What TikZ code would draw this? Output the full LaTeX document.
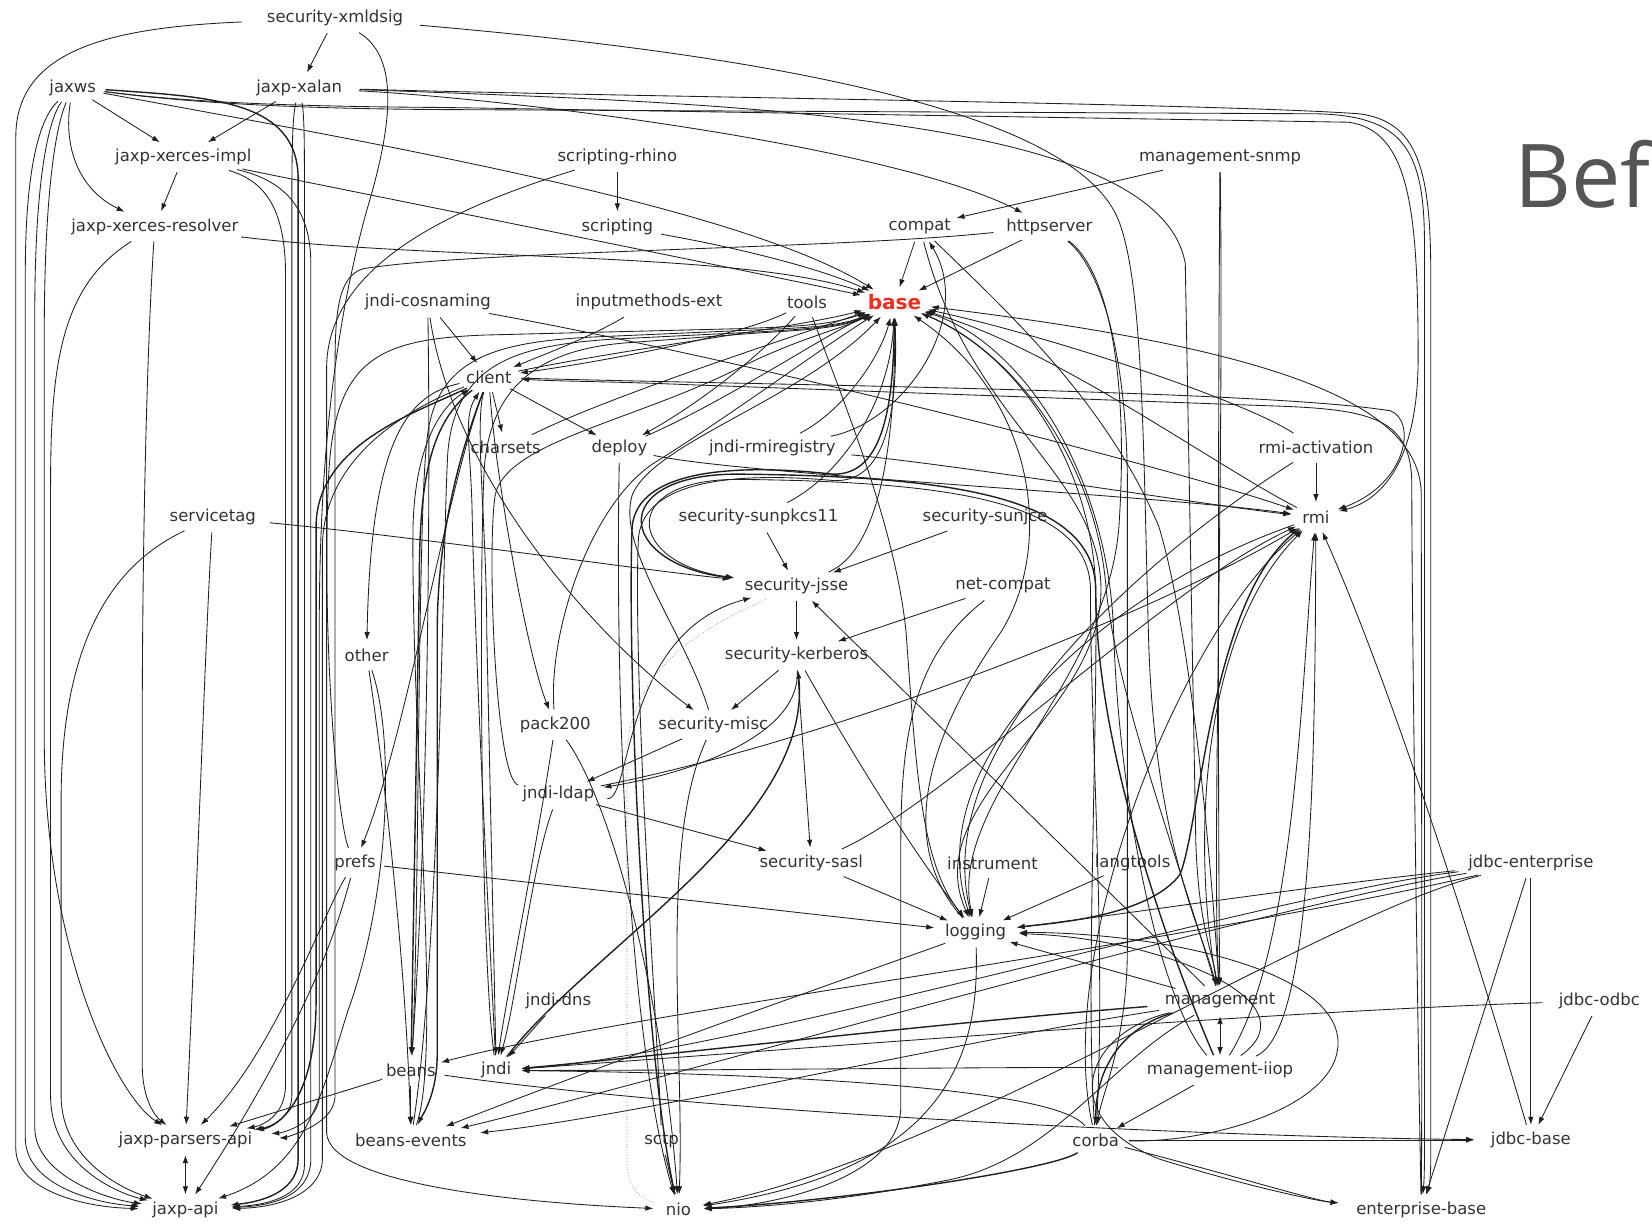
\documentclass[tikz,border=0pt]{standalone}
\usepackage{fontspec}
\setmainfont{DejaVu Sans}
\newfontfamily\beffont{Open Sans}
\usetikzlibrary{arrows.meta,shapes.geometric}
\definecolor{basered}{RGB}{240,45,35}
\definecolor{befgray}{RGB}{85,85,85}
\tikzset{
  lb/.style={shape=ellipse, inner sep=0pt, minimum height=30pt, minimum width=50pt, font=\fontsize{16.5}{18}\selectfont, text=black!80},
  e/.style={draw=black!88, line width=0.85pt, -{Latex[length=8pt,width=5.5pt]}},
  eb/.style={e, line width=1.4pt},
  ee/.style={draw=black!88, line width=0.85pt, {Latex[length=8pt,width=5.5pt]}-{Latex[length=8pt,width=5.5pt]}},
  ed/.style={draw=black!35, line width=0.8pt, dotted},
}
\begin{document}
\begin{tikzpicture}[x=1.05357pt,y=-1.05357pt]
\useasboundingbox (0,0) rectangle (1568,1162);
\fill[white] (0,0) rectangle (1568,1162);
% nodes
\node[lb] (sxml) at (318,17) {security-xmldsig};
\node[lb] (jaxws) at (69,83) {jaxws};
\node[lb] (xalan) at (284,83) {jaxp-xalan};
\node[lb] (ximpl) at (174,149) {jaxp-xerces-impl};
\node[lb] (rhino) at (586,149) {scripting-rhino};
\node[lb] (snmp) at (1158,149) {management-snmp};
\node[lb] (xres) at (147,215) {jaxp-xerces-resolver};
\node[lb] (scripting) at (586,215) {scripting};
\node[lb] (compat) at (873,215) {compat};
\node[lb] (httpserver) at (996,215) {httpserver};
\node[lb] (cosnaming) at (406,287) {jndi-cosnaming};
\node[lb] (inputm) at (616,287) {inputmethods-ext};
\node[lb] (tools) at (766,287) {tools};
\node[lb, font=\bfseries\fontsize{20}{22}\selectfont, text=basered] (base) at (849,287) {base};
\node[lb] (client) at (464,358) {client};
\node[lb] (charsets) at (480,425) {charsets};
\node[lb] (deploy) at (588,425) {deploy};
\node[lb] (rmireg) at (733,425) {jndi-rmiregistry};
\node[lb] (rmiact) at (1249,425) {rmi-activation};
\node[lb] (servicetag) at (202,491) {servicetag};
\node[lb] (sunpkcs) at (720,491) {security-sunpkcs11};
\node[lb] (sunjce) at (935,491) {security-sunjce};
\node[lb] (rmi) at (1249,491) {rmi};
\node[lb] (jsse) at (756,556) {security-jsse};
\node[lb] (netcompat) at (952,556) {net-compat};
\node[lb] (other) at (348,622) {other};
\node[lb] (kerberos) at (756,622) {security-kerberos};
\node[lb] (pack) at (527,688) {pack200};
\node[lb] (misc) at (677,688) {security-misc};
\node[lb] (ldap) at (530,754) {jndi-ldap};
\node[lb] (prefs) at (337,819) {prefs};
\node[lb] (sasl) at (770,819) {security-sasl};
\node[lb] (instrument) at (942,819) {instrument};
\node[lb] (langtools) at (1075,819) {langtools};
\node[lb] (jdbcent) at (1453,819) {jdbc-enterprise};
\node[lb] (logging) at (926,885) {logging};
\node[lb] (jndidns) at (530,950) {jndi-dns};
\node[lb] (management) at (1158,950) {management};
\node[lb] (jdbcodbc) at (1518,950) {jdbc-odbc};
\node[lb] (beans) at (390,1016) {beans};
\node[lb] (jndi) at (471,1016) {jndi};
\node[lb] (mgmtiiop) at (1158,1016) {management-iiop};
\node[lb] (parsers) at (176,1082) {jaxp-parsers-api};
\node[lb] (beansev) at (390,1082) {beans-events};
\node[lb] (sctp) at (628,1082) {sctp};
\node[lb] (corba) at (1040,1082) {corba};
\node[lb] (jdbcbase) at (1453,1082) {jdbc-base};
\node[lb] (jaxpapi) at (176,1148) {jaxp-api};
\node[lb] (nio) at (644,1148) {nio};
\node[lb] (entbase) at (1349,1148) {enterprise-base};
\node[anchor=base west, inner sep=0pt, font=\beffont\fontsize{88}{90}\selectfont, text=befgray] (bef) at (1437,197) {Bef};
% top-left
\draw[e] (sxml) -- (xalan);
\draw[e] (sxml) .. controls (110,26) and (15,45) .. (15,130) -- (15,1090) .. controls (15,1130) and (80,1146) .. (jaxpapi);
\draw[e] (sxml) .. controls (380,55) and (372,120) .. (348,200) .. controls (315,320) and (303,450) .. (303,600) -- (303,1040) .. controls (303,1065) and (270,1075) .. (parsers);
\draw[e] (sxml) .. controls (700,50) and (1020,100) .. (1062,210) .. controls (1085,270) and (1085,420) .. (1090,600) .. controls (1095,800) and (1140,880) .. (management);
% jaxws
\draw[e] (jaxws) -- (ximpl);
\draw[e] (jaxws) .. controls (60,140) and (75,180) .. (xres);
\draw[e] (jaxws) .. controls (40,110) and (24,150) .. (24,260) -- (24,1080) .. controls (24,1125) and (90,1142) .. (jaxpapi);
\draw[e] (jaxws) .. controls (48,110) and (33,160) .. (33,300) -- (33,1070) .. controls (33,1115) and (100,1138) .. (jaxpapi);
\draw[e] (jaxws) .. controls (55,115) and (42,170) .. (42,320) -- (42,700) .. controls (42,900) and (110,1040) .. (parsers);
\draw[e] (jaxws) .. controls (160,95) and (250,103) .. (420,104) -- (1250,108) .. controls (1330,110) and (1352,140) .. (1352,230) -- (1352,1100) .. controls (1352,1120) and (1351,1128) .. (entbase);
\draw[e] (jaxws) .. controls (170,96) and (260,101) .. (420,102) -- (1280,116) .. controls (1338,124) and (1346,200) .. (1346,340) .. controls (1346,440) and (1310,475) .. (rmi);
\draw[e] (jaxws) .. controls (350,135) and (700,195) .. (base);
\draw[eb] (jaxws) .. controls (200,92) and (283,95) .. (283,170) -- (283,1100) .. controls (283,1128) and (255,1140) .. (jaxpapi);
% xalan
\draw[e] (xalan) -- (ximpl);
\draw[e] (xalan) .. controls (289,110) and (289,140) .. (289,200) -- (289,1105) .. controls (289,1132) and (262,1143) .. (jaxpapi);
\draw[e] (xalan) .. controls (278,110) and (277,130) .. (277,200) -- (277,1040) .. controls (277,1062) and (255,1070) .. (parsers);
\draw[e] (xalan) .. controls (600,92) and (1150,98) .. (1290,108) .. controls (1345,115) and (1358,160) .. (1358,260) -- (1358,1100) .. controls (1358,1120) and (1356,1128) .. (entbase);
\draw[e] (xalan) .. controls (500,95) and (850,140) .. (httpserver);
\draw[e] (xalan) .. controls (700,98) and (1100,110) .. (1125,250) -- (1135,800) .. controls (1138,880) and (1150,900) .. (management);
% ximpl
\draw[e] (ximpl) -- (xres);
\draw[e] (ximpl) .. controls (400,195) and (700,255) .. (base);
\draw[e] (ximpl) .. controls (245,170) and (271,190) .. (271,260) -- (271,1030) .. controls (271,1058) and (250,1068) .. (parsers);
\draw[e] (ximpl) .. controls (255,168) and (295,185) .. (295,250) -- (295,1100) .. controls (295,1130) and (268,1144) .. (jaxpapi);
% xres
\draw[e] (xres) .. controls (140,320) and (135,500) .. (135,700) -- (135,1010) .. controls (135,1045) and (148,1060) .. (parsers);
\draw[e] (xres) .. controls (60,270) and (48,340) .. (48,460) -- (48,1040) .. controls (48,1105) and (110,1132) .. (jaxpapi);
\draw[e] (xres) .. controls (420,248) and (700,238) .. (base);
% rhino, scripting
\draw[e] (rhino) -- (scripting);
\draw[e] (rhino) .. controls (420,200) and (310,255) .. (310,350) -- (310,1075) .. controls (312,1125) and (500,1142) .. (nio);
\draw[e] (scripting) .. controls (700,235) and (780,255) .. (base);
% snmp compat httpserver
\draw[e] (snmp) -- (compat);
\draw[e] (snmp) .. controls (1156,400) and (1156,800) .. (management);
\draw[e] (snmp) .. controls (1162,450) and (1150,820) .. (management);
\draw[e] (compat) -- (base);
\draw[e] (httpserver) -- (base);
\draw[e] (httpserver) .. controls (800,236) and (450,238) .. (345,255) .. controls (320,262) and (318,300) .. (318,350) -- (318,1040) .. controls (318,1070) and (265,1080) .. (parsers);
\draw[e] (compat) .. controls (950,290) and (1050,380) .. (1100,500) .. controls (1130,600) and (1148,800) .. (management);
\draw[e] (httpserver) .. controls (1050,255) and (1072,350) .. (1062,500) .. controls (1050,650) and (900,760) .. (logging);
\draw[e] (httpserver) .. controls (1040,250) and (1068,320) .. (1070,450) -- (1070,900) .. controls (1070,990) and (1045,1040) .. (corba);
\draw[e] (rmireg) .. controls (860,400) and (925,300) .. (compat);
% servicetag
\draw[e] (servicetag) .. controls (400,510) and (600,540) .. (jsse);
\draw[e] (servicetag) .. controls (195,600) and (185,900) .. (parsers);
\draw[e] (servicetag) .. controls (120,530) and (58,590) .. (58,760) -- (58,1040) .. controls (58,1100) and (115,1128) .. (jaxpapi);
% client cluster
\draw[e] (cosnaming) -- (client);
\draw[e] (inputm) .. controls (560,320) and (520,335) .. (client);
\draw[e] (tools) .. controls (700,320) and (560,345) .. (client);
\draw[e] (client) -- (charsets);
\draw[e] (client) -- (deploy);
\draw[e] (client) .. controls (600,330) and (750,312) .. (base);
\draw[e] (charsets) .. controls (570,380) and (720,330) .. (base);
\draw[e] (deploy) .. controls (690,380) and (780,320) .. (base);
\draw[e] (rmireg) .. controls (800,390) and (835,340) .. (base);
\draw[e] (tools) .. controls (720,340) and (660,385) .. (deploy);
\draw[e] (cosnaming) .. controls (409,500) and (405,800) .. (beans);
\draw[e] (cosnaming) .. controls (700,340) and (1100,440) .. (rmi);
\draw[e] (client) .. controls (700,365) and (1200,370) .. (1320,390) .. controls (1345,400) and (1335,460) .. (rmi);
\draw[e] (entbase) .. controls (1346,1000) and (1340,600) .. (1340,460) .. controls (1340,395) and (1300,388) .. (1200,385) -- (650,365) .. controls (580,362) and (530,362) .. (client);
% base fan
\draw[e] (logging) .. controls (850,800) and (880,700) .. (950,600) .. controls (1000,520) and (985,380) .. (base);
\draw[e] (management) .. controls (1120,820) and (1060,660) .. (1050,560) .. controls (1040,430) and (955,330) .. (base);
\draw[e] (corba) .. controls (1030,950) and (1042,700) .. (1040,560) .. controls (1037,440) and (965,335) .. (base);
\draw[e] (mgmtiiop) .. controls (1100,950) and (1062,760) .. (1057,600) .. controls (1052,450) and (970,325) .. (base);
\draw[e] (rmi) .. controls (1150,440) and (1000,330) .. (base);
\draw[e] (rmiact) .. controls (1180,380) and (1000,320) .. (base);
\draw[e] (entbase) .. controls (1350,1000) and (1349,600) .. (1349,470) .. controls (1349,380) and (1200,330) .. (base);
\draw[e] (jsse) .. controls (840,520) and (850,400) .. (base);
\draw[e] (sunpkcs) .. controls (800,450) and (845,380) .. (base);
% into logging from above
\draw[e] (rmiact) .. controls (1100,520) and (880,700) .. (logging);
\draw[e] (rmi) .. controls (1050,560) and (870,720) .. (logging);
\draw[e] (compat) .. controls (920,400) and (1045,450) .. (1045,560) .. controls (1045,680) and (870,760) .. (logging);
\draw[e] (tools) .. controls (800,380) and (850,500) .. (860,600) .. controls (870,740) and (875,820) .. (logging);
% loop into jsse
\draw[eb] (mgmtiiop) .. controls (1100,880) and (1040,700) .. (1040,560) .. controls (1040,470) and (900,452) .. (700,450) .. controls (575,450) and (585,535) .. (jsse);
\draw[e] (corba) .. controls (1050,900) and (1035,700) .. (1035,560) .. controls (1035,475) and (900,457) .. (700,455) .. controls (585,455) and (595,535) .. (jsse);
% into rmi
\draw[e] (rmiact) -- (rmi);
\draw[e] (mgmtiiop) .. controls (1248,980) and (1248,700) .. (rmi);
\draw[e] (mgmtiiop) .. controls (1230,900) and (1235,650) .. (rmi);
\draw[e] (management) .. controls (1130,800) and (1140,600) .. (rmi);
\draw[e] (corba) .. controls (1000,900) and (1120,600) .. (rmi);
\draw[e] (jdbcbase) .. controls (1400,900) and (1320,650) .. (rmi);
\draw[e] (ldap) .. controls (800,700) and (1100,580) .. (rmi);
\draw[e] (sasl) .. controls (900,760) and (1100,560) .. (rmi);
\draw[e] (rmireg) .. controls (900,440) and (1150,480) .. (rmi);
\draw[e] (deploy) .. controls (700,450) and (1100,470) .. (rmi);
% left centre
\draw[e] (client) .. controls (385,375) and (352,420) .. (other);
\draw[e] (other) .. controls (360,700) and (385,900) .. (beansev);
\draw[e] (other) .. controls (375,700) and (370,850) .. (330,960) .. controls (305,1040) and (290,1110) .. (jaxpapi);
\draw[e] (client) .. controls (425,460) and (385,700) .. (prefs);
\draw[e] (prefs) .. controls (325,860) and (305,950) .. (jaxpapi);
\draw[e] (prefs) .. controls (310,860) and (260,1000) .. (parsers);
\draw[e] (prefs) -- (logging);
\draw[e] (prefs) .. controls (320,780) and (305,600) .. (312,450) .. controls (318,340) and (360,322) .. (460,318) -- (700,312) .. controls (760,310) and (790,308) .. (base);
% base bundle from lower left
\draw[e] (beans) .. controls (398,900) and (396,500) .. (405,420) .. controls (412,340) and (470,325) .. (560,320) -- (720,313) .. controls (770,311) and (800,309) .. (base);
\draw[e] (jndi) .. controls (455,900) and (455,500) .. (460,440) .. controls (468,360) and (520,330) .. (600,325) -- (720,316) .. controls (770,313) and (800,311) .. (base);
\draw[e] (beansev) .. controls (418,900) and (420,520) .. (425,430) .. controls (432,345) and (490,328) .. (580,322) -- (720,315) .. controls (770,312) and (800,310) .. (base);
\draw[eb] (nio) .. controls (610,1000) and (595,620) .. (600,500) .. controls (605,445) and (700,440) .. (790,450) .. controls (840,452) and (848,380) .. (base);
\draw[e] (sctp) .. controls (625,1000) and (600,640) .. (606,510) .. controls (612,455) and (700,448) .. (790,456) .. controls (845,460) and (852,380) .. (base);
\draw[e] (ldap) .. controls (470,740) and (462,520) .. (470,470) .. controls (480,420) and (600,400) .. (700,350) .. controls (760,320) and (800,312) .. (base);
\draw[e] (pack) .. controls (520,600) and (560,480) .. (620,440) .. controls (700,390) and (780,330) .. (base);
\draw[e] (misc) .. controls (650,600) and (585,520) .. (600,470) .. controls (620,420) and (760,380) .. (base);
% client downwards
\draw[eb] (client) .. controls (410,400) and (398,450) .. (398,550) -- (beans);
\draw[e] (beansev) .. controls (420,1000) and (390,700) .. (392,500) .. controls (394,420) and (420,385) .. (client);
\draw[e] (jndi) .. controls (465,900) and (450,600) .. (448,480) .. controls (446,420) and (440,395) .. (client);
\draw[eb] (client) .. controls (400,390) and (300,420) .. (300,500) -- (300,950) .. controls (300,1050) and (260,1070) .. (parsers);
\draw[e] (client) .. controls (395,385) and (306,430) .. (306,520) -- (306,1100) .. controls (306,1130) and (270,1146) .. (jaxpapi);
\draw[e] (client) .. controls (450,400) and (462,500) .. (462,600) -- (jndi);
\draw[eb] (client) .. controls (440,420) and (415,500) .. (415,600) -- (415,1000) .. controls (415,1040) and (400,1060) .. (beansev);
\draw[e] (cosnaming) .. controls (430,450) and (560,600) .. (misc);
\draw[e] (client) .. controls (470,450) and (500,620) .. (pack);
\draw[e] (pack) .. controls (510,800) and (480,950) .. (jndi);
\draw[e] (pack) .. controls (580,760) and (630,950) .. (nio);
\draw[e] (deploy) .. controls (583,700) and (600,1000) .. (nio);
\draw[e] (misc) .. controls (625,800) and (650,1000) .. (nio);
\draw[e] (misc) -- (ldap);
\draw[e] (kerberos) .. controls (760,700) and (650,735) .. (ldap);
\draw[e] (ldap) -- (sasl);
\draw[e] (ldap) .. controls (600,760) and (590,600) .. (jsse);
\draw[e] (ldap) .. controls (505,820) and (490,950) .. (jndi);
\draw[e] (jndidns) -- (jndi);
\draw[eb] (jndi) .. controls (560,900) and (772,780) .. (kerberos);
% security cluster
\draw[e] (jsse) -- (kerberos);
\draw[e] (kerberos) -- (misc);
\draw[e] (kerberos) -- (sasl);
\draw[e] (kerberos) .. controls (800,700) and (860,800) .. (logging);
\draw[e] (netcompat) -- (kerberos);
\draw[e] (sunjce) -- (jsse);
\draw[e] (sunpkcs) -- (jsse);
\draw[e] (management) -- (jsse);
\draw[ed] (jsse) .. controls (680,590) and (595,630) .. (595,720) -- (595,1100) .. controls (595,1120) and (600,1135) .. (nio);
\draw[e] (netcompat) .. controls (870,620) and (855,690) .. (855,800) -- (855,1050) .. controls (855,1120) and (730,1145) .. (nio);
\draw[e] (sasl) -- (logging);
\draw[e] (instrument) -- (logging);
\draw[e] (langtools) -- (logging);
% logging right side
\draw[e] (management) -- (logging);
\draw[e] (jdbcent) .. controls (1250,840) and (1050,870) .. (logging);
\draw[e] (mgmtiiop) .. controls (1250,950) and (1100,890) .. (logging);
\draw[e] (corba) .. controls (1150,1085) and (1270,1050) .. (1270,990) .. controls (1270,920) and (1100,885) .. (logging);
\draw[eb] (rmi) .. controls (1150,560) and (1140,780) .. (1120,830) .. controls (1090,870) and (1000,876) .. (logging);
\draw[e] (logging) .. controls (930,1000) and (900,1110) .. (nio);
\draw[e] (logging) .. controls (800,930) and (600,1000) .. (beansev);
% right region
\draw[ee] (management) -- (mgmtiiop);
\draw[e] (mgmtiiop) -- (corba);
\draw[eb] (management) .. controls (1080,970) and (1040,1000) .. (corba);
\draw[e] (corba) -- (jdbcbase);
\draw[e] (corba) .. controls (1150,1110) and (1250,1140) .. (entbase);
\draw[e] (management) .. controls (1030,980) and (1000,1060) .. (1100,1100) .. controls (1180,1125) and (1250,1140) .. (entbase);
\draw[e] (jdbcent) -- (jdbcbase);
\draw[e] (jdbcent) -- (entbase);
\draw[e] (jdbcodbc) -- (jdbcbase);
\draw[e] (jdbcodbc) .. controls (1200,960) and (700,1000) .. (jndi);
\draw[e] (jdbcent) .. controls (1200,850) and (700,1000) .. (jndi);
\draw[e] (jdbcent) .. controls (1200,860) and (650,1020) .. (beansev);
\draw[e] (jdbcent) .. controls (1100,900) and (600,960) .. (beans);
\draw[e] (jdbcent) .. controls (1250,870) and (900,1100) .. (nio);
\draw[eb] (management) .. controls (900,970) and (600,1005) .. (jndi);
\draw[e] (mgmtiiop) .. controls (1000,1012) and (700,1016) .. (jndi);
\draw[e] (corba) .. controls (1000,1030) and (700,1018) .. (jndi);
\draw[e] (management) .. controls (900,990) and (600,1060) .. (beansev);
\draw[e] (beans) -- (beansev);
\draw[e] (beans) -- (parsers);
\draw[e] (beans) .. controls (700,1060) and (1200,1080) .. (jdbcbase);
\draw[eb] (corba) .. controls (1000,1110) and (800,1140) .. (nio);
\draw[e] (management) .. controls (1050,1010) and (1000,1100) .. (900,1120) .. controls (800,1140) and (720,1146) .. (nio);
\draw[e] (sctp) -- (nio);
\draw[ee] (parsers) -- (jaxpapi);
\end{tikzpicture}
\end{document}
